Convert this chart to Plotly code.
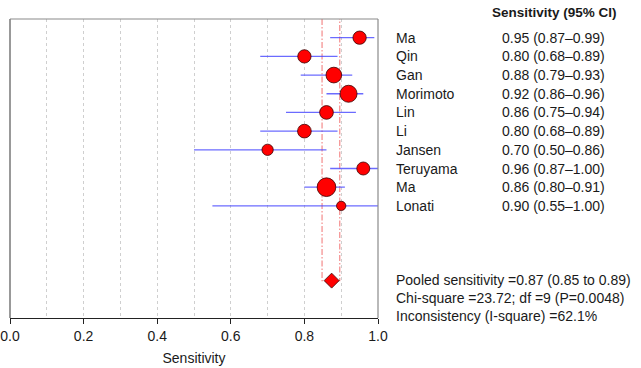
import plotly.graph_objects as go

# ---- data ----
studies = ["Ma", "Qin", "Gan", "Morimoto", "Lin", "Li", "Jansen", "Teruyama", "Ma", "Lonati"]
sens = [0.95, 0.80, 0.88, 0.92, 0.86, 0.80, 0.70, 0.96, 0.86, 0.90]
ci_lo = [0.87, 0.68, 0.79, 0.86, 0.75, 0.68, 0.50, 0.87, 0.80, 0.55]
ci_hi = [0.99, 0.89, 0.93, 0.96, 0.94, 0.89, 0.86, 1.00, 0.91, 1.00]
study_weight = [13.3, 13.3, 15.7, 17.0, 13.7, 13.7, 11.3, 13.0, 18.7, 9.3]

pooled_est = 0.874
pooled_lo = 0.848
pooled_hi = 0.896

header = "Sensitivity (95% CI)"
stats_lines = [
    "Pooled sensitivity =0.87 (0.85 to 0.89)",
    "Chi-square =23.72; df =9 (P=0.0048)",
    "Inconsistency (I-square) =62.1%",
]
x_ticks = [0.0, 0.2, 0.4, 0.6, 0.8, 1.0]
x_title = "Sensitivity"

FONT = "Liberation Sans, Arial, Helvetica, sans-serif"
TXT = "#1a1a1a"

rows = list(range(1, len(studies) + 1))
pooled_row = 14
n_rows = 16

fig = go.Figure()

# pooled CI reference lines (U shape)
fig.add_trace(go.Scatter(
    x=[pooled_lo, pooled_lo, pooled_hi, pooled_hi],
    y=[0, pooled_row, pooled_row, 0],
    mode="lines",
    line=dict(color="rgba(242,120,120,0.8)", width=1.3, dash="6px,2px,1.5px,2px"),
    hoverinfo="skip", showlegend=False,
))

# CI lines
cx, cy = [], []
for r, a, b in zip(rows, ci_lo, ci_hi):
    cx += [a, b, None]
    cy += [r, r, None]
fig.add_trace(go.Scatter(
    x=cx, y=cy, mode="lines",
    line=dict(color="rgba(70,70,255,0.8)", width=1.3),
    hoverinfo="skip", showlegend=False,
))

# study points
fig.add_trace(go.Scatter(
    x=sens, y=rows, mode="markers",
    marker=dict(size=study_weight, color="#ff0000", opacity=1,
                line=dict(color="#3a0000", width=0.8)),
    showlegend=False,
))

# pooled diamond
fig.add_trace(go.Scatter(
    x=[pooled_est], y=[pooled_row], mode="markers",
    marker=dict(symbol="diamond", size=11.5, color="#ff0000", opacity=1,
                line=dict(color="#3a0000", width=0.8)),
    showlegend=False,
))

ann = []
for r, name, s, a, b in zip(rows, studies, sens, ci_lo, ci_hi):
    ann.append(dict(x=1.044, y=r, xref="paper", yref="y", text=name,
                    xanchor="left", yanchor="middle", showarrow=False,
                    font=dict(size=14, color=TXT, family=FONT)))
    ann.append(dict(x=1.622, y=r, xref="paper", yref="y",
                    text=f"{s:.2f} ({a:.2f}\u2013{b:.2f})",
                    xanchor="right", yanchor="middle", showarrow=False,
                    font=dict(size=14, color=TXT, family=FONT)))

ann.append(dict(x=1.654, y=1.0224, xref="paper", yref="paper", text="<b>" + header + "</b>",
                xanchor="right", yanchor="middle", showarrow=False,
                font=dict(size=13.5, color=TXT, family=FONT)))

ann.append(dict(x=1.044, y=(298 - 19) / 18.69, xref="paper", yref="y",
                text="<br>".join(stats_lines), align="left",
                xanchor="left", yanchor="middle", showarrow=False,
                font=dict(size=14, color=TXT, family=FONT)))

shapes = [
    dict(type="line", xref="paper", yref="paper", x0=0, x1=0, y0=0, y1=1,
         line=dict(color="#555555", width=1.2)),
    dict(type="line", xref="paper", yref="paper", x0=0, x1=1, y0=1, y1=1,
         line=dict(color="#8a8a8a", width=1.2)),
    dict(type="line", xref="paper", yref="paper", x0=1, x1=1, y0=0, y1=1,
         line=dict(color="#8a8a8a", width=1.2)),
]

fig.update_layout(
    width=641, height=368,
    margin=dict(l=10, r=263, t=19, b=50, autoexpand=False),
    paper_bgcolor="white", plot_bgcolor="white",
    font=dict(family=FONT, size=14, color=TXT),
    annotations=ann, shapes=shapes,
    xaxis=dict(
        range=[0, 1], tickvals=x_ticks, ticktext=[f"{v:.1f}" for v in x_ticks],
        automargin=False,
        showgrid=True, gridcolor="#cfcfcf", griddash="dot", gridwidth=1,
        minor=dict(dtick=0.1, showgrid=True, gridcolor="#cfcfcf", griddash="dot", ticklen=0),
        showline=True, linecolor="#222222", linewidth=1.2,
        ticks="outside", ticklen=5, tickcolor="#222222",
        tickfont=dict(size=14, color=TXT, family=FONT),
        title=dict(text=x_title, font=dict(size=14, color=TXT, family=FONT), standoff=10),
        zeroline=False, fixedrange=True,
    ),
    yaxis=dict(range=[n_rows, 0], visible=False, showgrid=False, zeroline=False,
               automargin=False, fixedrange=True),
)

fig.write_html("out.html", config={"displayModeBar": False},
               post_script="document.body.style.margin='0';")
